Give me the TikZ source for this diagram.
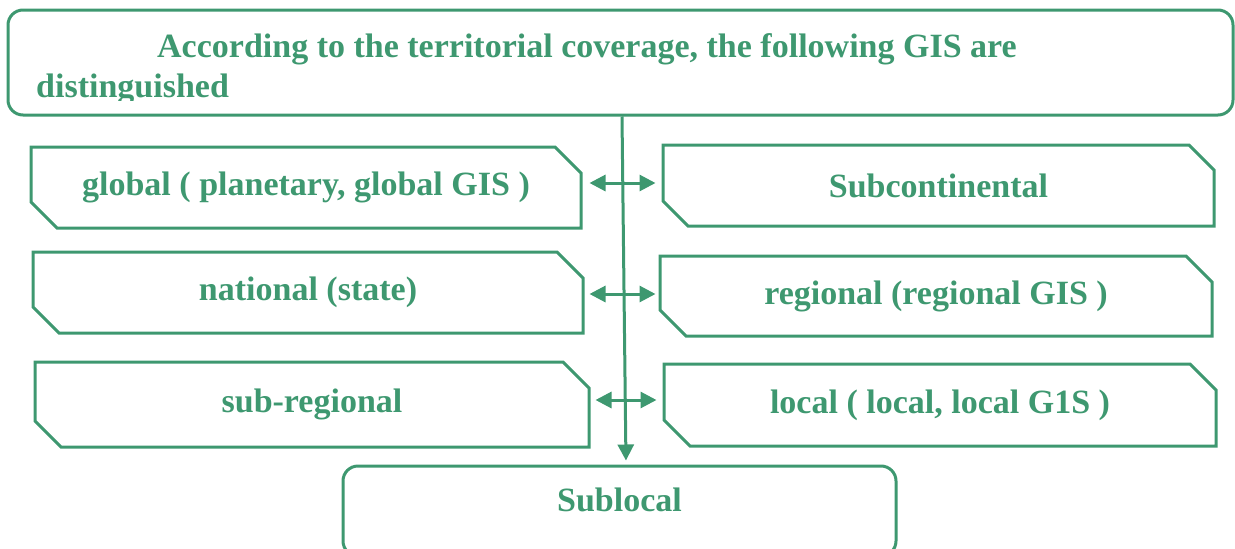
\documentclass[tikz,border=0pt]{standalone}
\usepackage{fontspec}
\setmainfont{Liberation Serif}
\usetikzlibrary{shapes.misc, arrows.meta}

\definecolor{gisgreen}{RGB}{62,152,112}
\newcommand{\gisfont}{\bfseries\fontsize{34}{40}\selectfont}

\tikzset{
	gisbox/.style = {chamfered rectangle, chamfered rectangle corners = {north east, south west},
		chamfered rectangle xsep = 13pt, chamfered rectangle ysep = 13pt,
		draw = gisgreen, line width = 3pt, inner sep = 0pt, text = gisgreen, font = \gisfont},
	roundbox/.style = {rectangle, rounded corners = 15pt, draw = gisgreen, line width = 3pt,
		inner sep = 0pt, text = gisgreen, font = \gisfont},
	link/.style = {draw = gisgreen, line width = 3pt,
		{Triangle[length = 16pt, width = 16pt]}-{Triangle[length = 16pt, width = 16pt]}},
	feed/.style = {draw = gisgreen, line width = 3pt, -{Triangle[length = 16pt, width = 16pt]}}
}

\begin{document}
\begin{tikzpicture}[x = 1pt, y = -1pt]
	\useasboundingbox (0,0) rectangle (1235,549);
	\clip (0,0) rectangle (1235,549);

	\def\boxh{81pt};

	\begin{scope}
		\node [roundbox, minimum width = 1225pt, minimum height = 105pt] (head) at (620.5,62.5) {};
		\begin{scope}
			\clip (10,12) rectangle (1230,100);
			\node [anchor = base west, text = gisgreen, font = \gisfont, inner sep = 0pt, align = left] (headtext) at (36,97)
				{\hspace*{121pt}According to the territorial coverage, the following GIS are\\distinguished};
		\end{scope}
	\end{scope}

	\begin{scope}
		\node [gisbox, minimum width = 550pt, minimum height = \boxh] (global) at (306,187.5) {global ( planetary, global GIS )};
		\node [gisbox, minimum width = 550pt, minimum height = \boxh] (national) at (308,292.5) {national (state)};
		\node [gisbox, minimum width = 554pt, minimum height = 85pt] (subreg) at (312,404.5) {sub-regional};
	\end{scope}

	\begin{scope}
		\node [gisbox, minimum width = 551pt, minimum height = \boxh] (subcont) at (938.5,185.5) {Subcontinental};
		\node [gisbox, minimum width = 552pt, minimum height = 80pt] (regional) at (936,296) {regional (regional GIS )};
		\node [gisbox, minimum width = 552pt, minimum height = 82pt] (local) at (940,405) {local ( local, local G1S )};
	\end{scope}

	\node [roundbox, minimum width = 553pt, text height = 45pt, text depth = 45pt] (sublocal) at (619.5,511) {Sublocal};

	\begin{scope}
		\draw [feed, shorten > = 4pt] ([xshift = 1.5pt]head.south) -- ([xshift = 6.5pt]sublocal.north);
		\draw [link, shorten < = 7pt, shorten > = 6pt] ([yshift = 4.5pt]global.east) -- ([yshift = 4.5pt]global.east -| subcont.west);
		\draw [link, shorten < = 5pt, shorten > = 3pt] ([yshift = -1.5pt]national.east) -- ([yshift = -1.5pt]national.east -| regional.west);
		\draw [link, shorten < = 5pt, shorten > = 6pt] ([yshift = 4.5pt]subreg.east) -- ([yshift = 4.5pt]subreg.east -| local.west);
	\end{scope}
\end{tikzpicture}
\end{document}
